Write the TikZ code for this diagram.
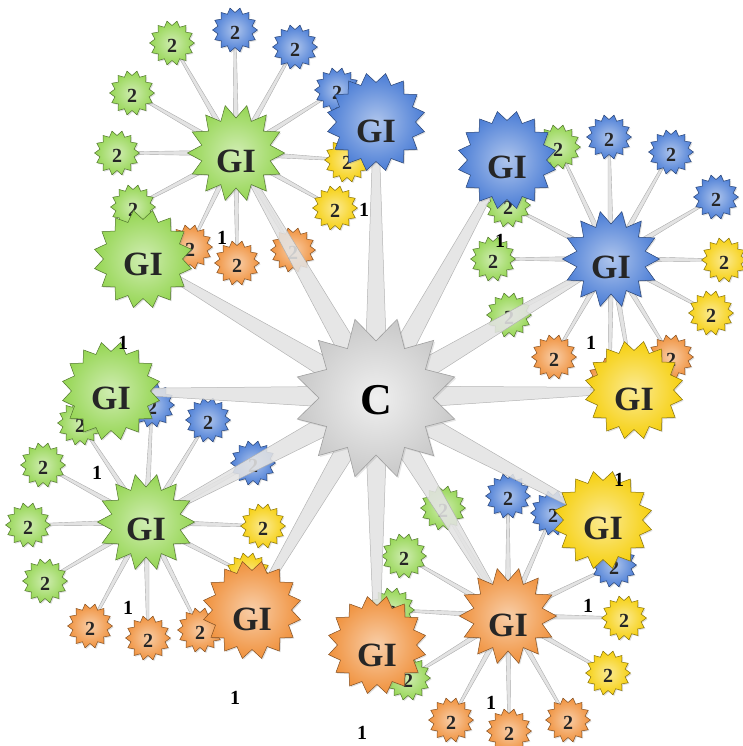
\documentclass[tikz,border=0pt]{standalone}
\usepackage{fontspec}
\setmainfont{Liberation Serif}
\usetikzlibrary{shapes.geometric,calc,shadows}
\pgfdeclarelayer{bgA}
\pgfdeclarelayer{midA}
\pgfdeclarelayer{topA}
\pgfsetlayers{bgA,main,midA,topA}
\definecolor{gr}{RGB}{150,214,84}
\definecolor{bl}{RGB}{76,126,214}
\definecolor{ye}{RGB}{246,208,16}
\definecolor{orr}{RGB}{240,146,62}
\newcommand\lowtxt[2]{\raisebox{-#1}[\height][\depth]{#2}}
\newcommand\hubspoke[2]{%
  \path[hubspk] ($(#1.center)!3pt!90:(#2.center)$) -- ($(#2.center)!1pt!-90:(#1.center)$)
    -- ($(#2.center)!1pt!90:(#1.center)$) -- ($(#1.center)!3pt!-90:(#2.center)$) -- cycle;}
\newcommand\censpoke[1]{%
  \path[censpk] ($(cen.center)!12pt!90:(#1.center)$) -- ($(#1.center)!2.5pt!-90:(cen.center)$)
    -- ($(#1.center)!2.5pt!90:(cen.center)$) -- ($(cen.center)!12pt!-90:(#1.center)$) -- cycle;}
\begin{document}
\begin{tikzpicture}[x=1pt,y=-1pt,
  starbase/.style={star, inner sep=0pt, draw=#1!55!black, line width=0.5pt,
    inner color=#1!45!white, outer color=#1, text=black!85,
    drop shadow={opacity=0.25,shadow xshift=1.2pt,shadow yshift=-1.2pt}},
  sat/.style={starbase=#1, star points=14, star point ratio=0.78, minimum size=35pt,
    font=\fontsize{20}{20}\selectfont\bfseries},
  hubstar/.style={starbase=#1, star points=14, star point ratio=0.72, minimum size=70pt,
    font=\fontsize{34}{34}\selectfont\bfseries},
  bigstar/.style={starbase=#1, star points=16, star point ratio=0.8, minimum size=79pt,
    font=\fontsize{34}{34}\selectfont\bfseries},
  cstar/.style={star, inner sep=0pt, star points=12, star point ratio=0.7, minimum size=114pt,
    draw=gray!75, line width=0.6pt, inner color=gray!12, outer color=gray!42, text=black,
    drop shadow={opacity=0.2,shadow xshift=1.5pt,shadow yshift=-1.5pt},
    font=\fontsize{44}{44}\selectfont\bfseries},
  one/.style={font=\fontsize{20}{20}\selectfont\bfseries, text=black, inner sep=0pt},
  hubspk/.style={fill=gray!22, draw=gray!65, line width=0.4pt},
  censpk/.style={fill=gray!22, draw=gray!65, line width=0.5pt, opacity=0.88}]
\useasboundingbox (0,0) rectangle (742,746);

% ---------- big stars, hubs and centre ----------
\begin{pgfonlayer}{topA}
\node[cstar] (cen) at (376,398) {\lowtxt{2pt}{C}};
\node[bigstar=bl] (g1) at (376,122) {\lowtxt{9pt}{GI}};
\node[bigstar=bl] (g2) at (507,160) {\lowtxt{7pt}{GI}};
\node[bigstar=ye] (g3) at (634,390) {\lowtxt{9pt}{GI}};
\node[bigstar=ye] (g4) at (603,520) {\lowtxt{8pt}{GI}};
\node[bigstar=orr] (g5) at (377,645) {\lowtxt{10pt}{GI}};
\node[bigstar=orr] (g6) at (252,610) {\lowtxt{9pt}{GI}};
\node[bigstar=gr] (g7) at (111,391) {\lowtxt{7pt}{GI}};
\node[bigstar=gr] (g8) at (143,259) {\lowtxt{5pt}{GI}};
\node[hubstar=gr] (hA) at (236,153) {\lowtxt{8pt}{GI}};
\node[hubstar=bl] (hB) at (611,259) {\lowtxt{8pt}{GI}};
\node[hubstar=gr] (hC) at (146,522) {\lowtxt{7pt}{GI}};
\node[hubstar=orr] (hD) at (508,616) {\lowtxt{9pt}{GI}};
% labels "1"
\node[one] (l1) at (222,238) {1};
\node[one] (l2) at (364,210) {1};
\node[one] (l3) at (123,343) {1};
\node[one] (l4) at (500,241) {1};
\node[one] (l5) at (591,343) {1};
\node[one] (l6) at (97,473) {1};
\node[one] (l7) at (128,608) {1};
\node[one] (l8) at (235,698) {1};
\node[one] (l9) at (362,733) {1};
\node[one] (l10) at (619,480) {1};
\node[one] (l11) at (588,606) {1};
\node[one] (l12) at (491,703) {1};
\end{pgfonlayer}

% ---------- satellites ----------
% hub A (green, top)
\node[sat=bl] (a1) at (235,30) {\lowtxt{3pt}{2}};
\node[sat=bl] (a2) at (295,47) {\lowtxt{3pt}{2}};
\node[sat=bl] (a3) at (337,90) {\lowtxt{3pt}{2}};
\node[sat=ye] (a4) at (347,160) {\lowtxt{3pt}{2}};
\node[sat=ye] (a5) at (335,208) {\lowtxt{3pt}{2}};
\node[sat=orr] (a6) at (293,250) {\lowtxt{3pt}{2}};
\node[sat=orr] (a7) at (237,263) {\lowtxt{3pt}{2}};
\node[sat=orr] (a8) at (190,247) {\lowtxt{3pt}{2}};
\node[sat=gr] (a9) at (133,207) {\lowtxt{3pt}{2}};
\node[sat=gr] (a10) at (117,153) {\lowtxt{3pt}{2}};
\node[sat=gr] (a11) at (132,93) {\lowtxt{3pt}{2}};
\node[sat=gr] (a12) at (172,43) {\lowtxt{3pt}{2}};
% hub B (blue)
\node[sat=bl] (b1) at (609,137) {\lowtxt{3pt}{2}};
\node[sat=bl] (b2) at (671,152) {\lowtxt{3pt}{2}};
\node[sat=bl] (b3) at (716,197) {\lowtxt{3pt}{2}};
\node[sat=ye] (b4) at (724,260) {\lowtxt{3pt}{2}};
\node[sat=ye] (b5) at (711,313) {\lowtxt{3pt}{2}};
\node[sat=orr] (b6) at (671,357) {\lowtxt{3pt}{2}};
\node[sat=orr] (b7) at (610,380) {\lowtxt{3pt}{2}};
\node[sat=orr] (b8) at (554,357) {\lowtxt{3pt}{2}};
\node[sat=gr] (b9) at (509,315) {\lowtxt{3pt}{2}};
\node[sat=gr] (b10) at (493,259) {\lowtxt{3pt}{2}};
\node[sat=gr] (b11) at (508,205) {\lowtxt{3pt}{2}};
\node[sat=gr] (b12) at (558,147) {\lowtxt{3pt}{2}};
% hub C (green, lower left)
\node[sat=bl] (c1) at (152,405) {\lowtxt{3pt}{2}};
\node[sat=bl] (c2) at (208,420) {\lowtxt{3pt}{2}};
\node[sat=bl] (c3) at (253,463) {\lowtxt{3pt}{2}};
\node[sat=ye] (c4) at (263,526) {\lowtxt{3pt}{2}};
\node[sat=ye] (c5) at (248,575) {\lowtxt{3pt}{2}};
\node[sat=orr] (c6) at (200,630) {\lowtxt{3pt}{2}};
\node[sat=orr] (c7) at (148,638) {\lowtxt{3pt}{2}};
\node[sat=orr] (c8) at (90,626) {\lowtxt{3pt}{2}};
\node[sat=gr] (c9) at (45,581) {\lowtxt{3pt}{2}};
\node[sat=gr] (c10) at (28,525) {\lowtxt{3pt}{2}};
\node[sat=gr] (c11) at (43,465) {\lowtxt{3pt}{2}};
\node[sat=gr] (c12) at (80,423) {\lowtxt{3pt}{2}};
% hub D (orange)
\node[sat=bl] (d1) at (508,496) {\lowtxt{3pt}{2}};
\node[sat=bl] (d2) at (553,513) {\lowtxt{3pt}{2}};
\node[sat=bl] (d3) at (614,565) {\lowtxt{3pt}{2}};
\node[sat=ye] (d4) at (624,618) {\lowtxt{3pt}{2}};
\node[sat=ye] (d5) at (608,673) {\lowtxt{3pt}{2}};
\node[sat=orr] (d6) at (568,720) {\lowtxt{3pt}{2}};
\node[sat=orr] (d7) at (509,731) {\lowtxt{3pt}{2}};
\node[sat=orr] (d8) at (451,720) {\lowtxt{3pt}{2}};
\node[sat=gr] (d9) at (408,678) {\lowtxt{3pt}{2}};
\node[sat=gr] (d10) at (392,610) {\lowtxt{3pt}{2}};
\node[sat=gr] (d11) at (404,556) {\lowtxt{3pt}{2}};
\node[sat=gr] (d12) at (443,508) {\lowtxt{3pt}{2}};

% ---------- spokes ----------
\begin{pgfonlayer}{bgA}
\foreach \i in {1,...,12} {\hubspoke{hA}{a\i}}
\foreach \i in {1,...,12} {\hubspoke{hB}{b\i}}
\foreach \i in {1,...,12} {\hubspoke{hC}{c\i}}
\foreach \i in {1,...,12} {\hubspoke{hD}{d\i}}
\hubspoke{hB}{g3}
\end{pgfonlayer}
\begin{pgfonlayer}{midA}
\foreach \t in {g1,g2,hB,g3,g4,hD,g5,g6,hC,g7,g8,hA} {\censpoke{\t}}
\end{pgfonlayer}
\end{tikzpicture}
\end{document}
